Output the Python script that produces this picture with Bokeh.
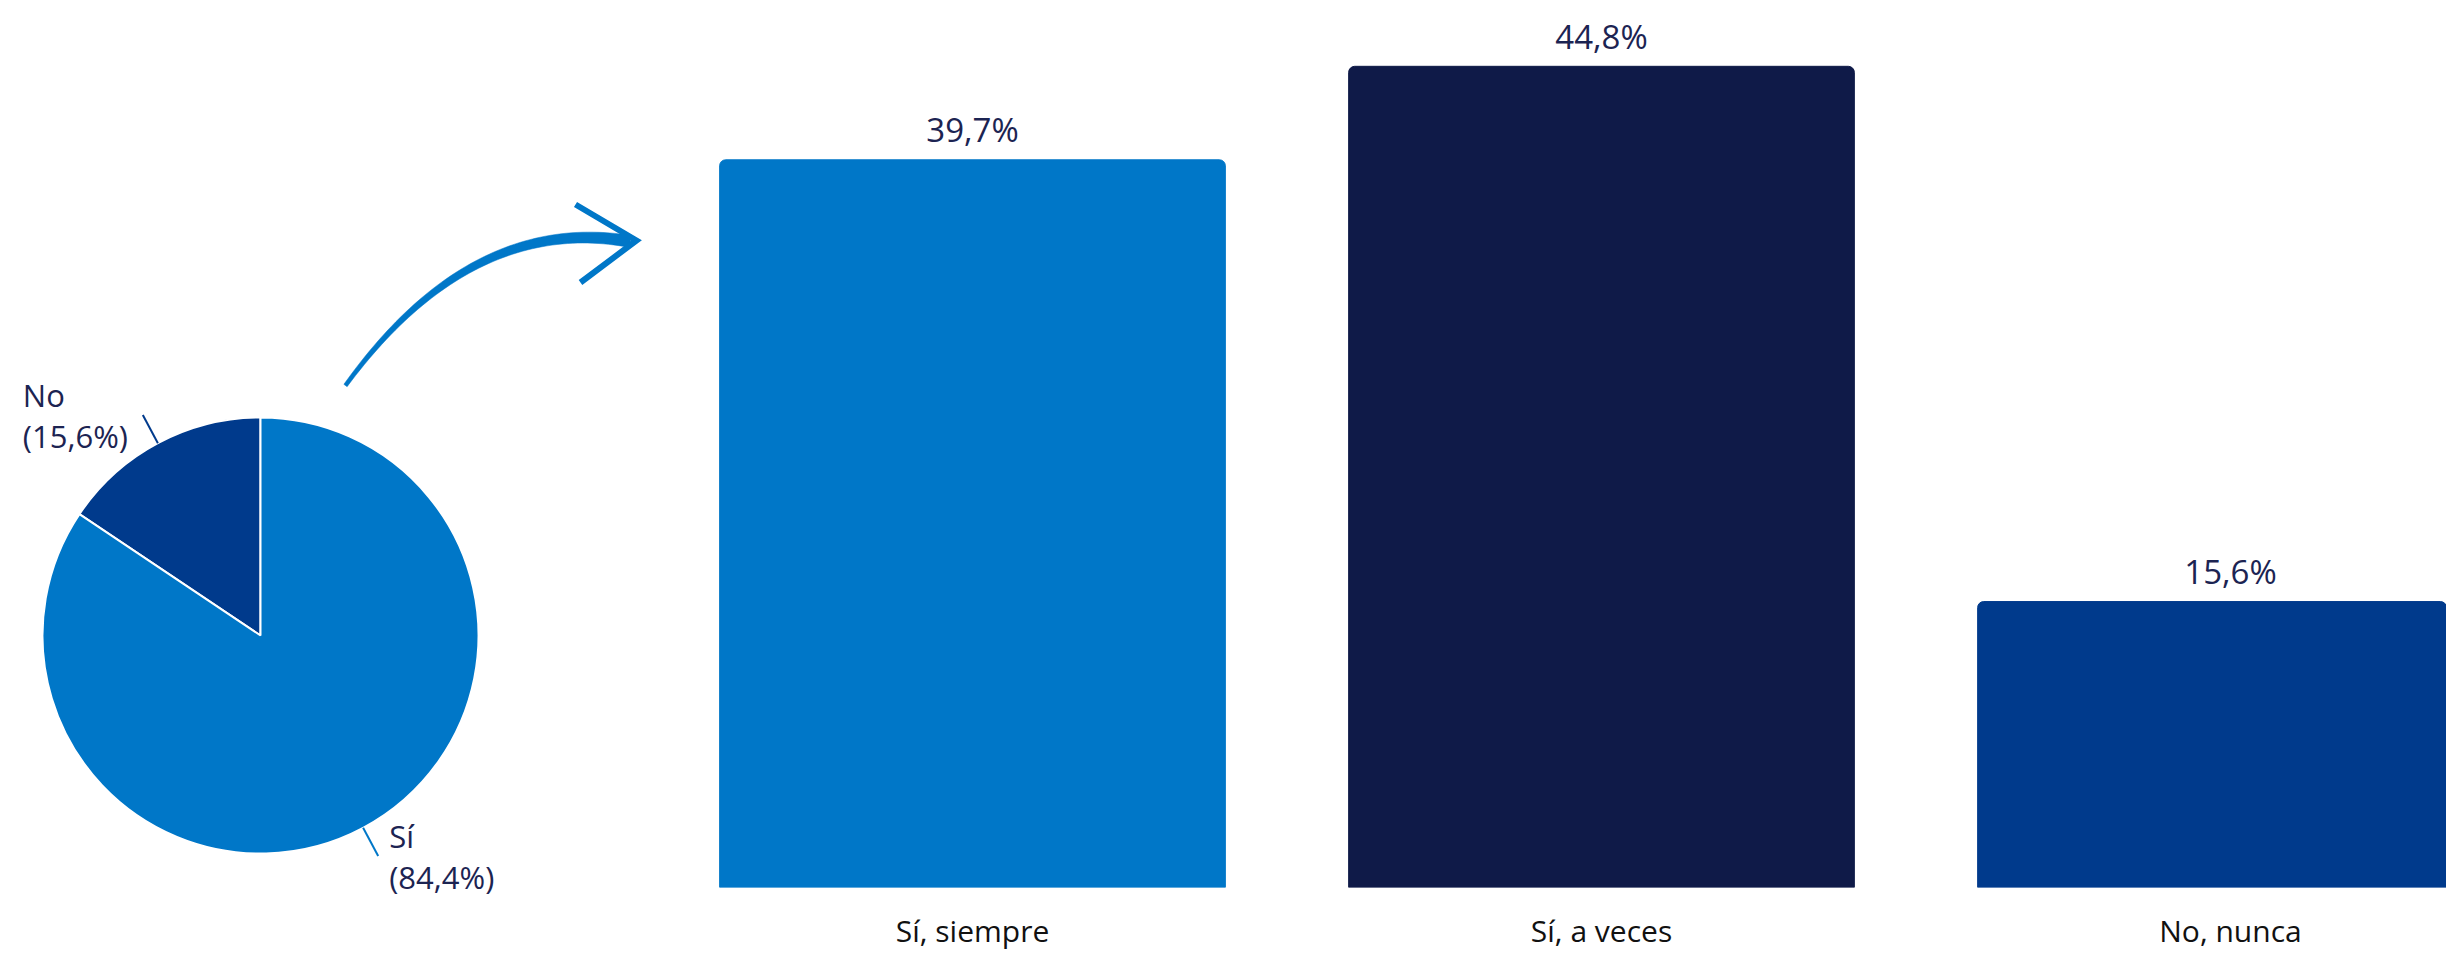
import numpy as np
from bokeh.plotting import figure
from bokeh.layouts import row
from bokeh.models import Range1d, FixedTicker, ColumnDataSource
from bokeh.core.properties import value
from bokeh.embed import file_html
from bokeh.resources import INLINE

# ---------------- data ----------------
pie_labels = ["No", "Sí"]
pie_values = [15.6, 84.4]
pie_colors = ["#003a8c", "#0077c8"]

categories = ["Sí, siempre", "Sí, a veces", "No, nunca"]
bar_values = [39.7, 44.8, 15.6]
bar_colors = ["#0077c8", "#0f1a48", "#003a8c"]

TEXT_COLOR = "#1c2452"
FONT = "Open Sans"
H = 953
BOTTOM = 66          # space below the bar baseline (px)

def fmt(v):
    return f"{v:.1f}%".replace(".", ",")

# ---------------- pie figure ----------------
PW = 680
pie = figure(width=PW, height=H, output_backend="svg", toolbar_location=None,
             x_range=Range1d(0, PW), y_range=Range1d(0, H),
             min_border=0, frame_align=False,
             outline_line_color=None, background_fill_color="white")
pie.axis.visible = False
pie.grid.visible = False

cx, cy, R = 260, H - 635, 218
fracs = np.array(pie_values) / sum(pie_values)
starts = np.pi / 2 + 2 * np.pi * np.concatenate([[0], np.cumsum(fracs)[:-1]])
ends = starts + 2 * np.pi * fracs
pie.wedge(x=cx, y=cy, radius=R, start_angle=starts, end_angle=ends,
          fill_color=pie_colors, line_color="white", line_width=2)

mids = (starts + ends) / 2
for lab, v, m, col in zip(pie_labels, pie_values, mids, pie_colors):
    ix, iy = cx + R * np.cos(m), cy + R * np.sin(m)
    ox, oy = cx + (R + 32) * np.cos(m), cy + (R + 32) * np.sin(m)
    pie.line([ix, ox], [iy, oy], line_color=col, line_width=2)
    tx = ox - 120 if np.cos(m) < 0 else ox + 11
    pie.text(x=[tx, tx], y=[oy + 10, oy - 31], text=[lab, "(" + fmt(v) + ")"],
             y_offset=-10,
             text_font=value(FONT), text_font_size="31px", text_color=TEXT_COLOR,
             text_align="left", text_baseline="alphabetic")

# arrow (decoration): tapered quadratic curve + chevron head
P0 = np.array([345, H - 385]); P1 = np.array([470, H - 213]); P2 = np.array([630, H - 241])
t = np.linspace(0, 1, 60)[:, None]
pts = (1 - t) ** 2 * P0 + 2 * (1 - t) * t * P1 + t ** 2 * P2
der = 2 * (1 - t) * (P1 - P0) + 2 * t * (P2 - P1)
nrm = np.column_stack([-der[:, 1], der[:, 0]])
nrm /= np.linalg.norm(nrm, axis=1)[:, None]
w = (4 + 8 * t[:, 0])[:, None] / 2
left = pts + nrm * w
right = pts - nrm * w
poly = np.vstack([left, right[::-1]])
pie.patch(poly[:, 0], poly[:, 1], fill_color="#0077c8", line_color="#0077c8", line_width=0.5)
pie.line([575, 636, 580], [H - 204, H - 240, H - 282], line_color="#0077c8",
         line_width=6, line_join="miter")

# ---------------- bar figure ----------------
BW = 2446 - PW
unit = 629.0
x0 = (PW - 972) / unit
bar_bottom_px = H - BOTTOM
y_end = bar_bottom_px / 18.33
bars = figure(width=BW, height=H, output_backend="svg", toolbar_location=None,
              x_range=Range1d(x0, x0 + BW / unit), y_range=Range1d(0, y_end),
              min_border=0, min_border_bottom=BOTTOM, frame_align=False,
              outline_line_color=None, background_fill_color="white")
bars.grid.visible = False
bars.yaxis.visible = False

xs = list(range(len(categories)))
src = ColumnDataSource(dict(x=xs, top=bar_values, color=bar_colors,
                            label=[fmt(v) for v in bar_values]))
bars.vbar(x="x", top="top", bottom=0, width=0.804, fill_color="color",
          line_color="color", source=src, border_radius=(6, 6, 0, 0))
bars.text(x="x", y="top", text="label", source=src, y_offset=-30,
          text_font=value(FONT), text_font_size="33px", text_color=TEXT_COLOR,
          text_align="center", text_baseline="alphabetic")

xa = bars.xaxis[0]
xa.ticker = FixedTicker(ticks=xs)
xa.major_label_overrides = {i: c for i, c in zip(xs, categories)}
xa.axis_line_color = None
xa.major_tick_line_color = None
xa.minor_tick_line_color = None
xa.major_tick_in = 0
xa.major_tick_out = 0
xa.major_label_standoff = 22
xa.major_label_text_font = FONT
xa.major_label_text_font_size = "30px"
xa.major_label_text_color = "#111111"

layout = row(pie, bars)
open("out.html", "w").write(file_html(layout, INLINE))
